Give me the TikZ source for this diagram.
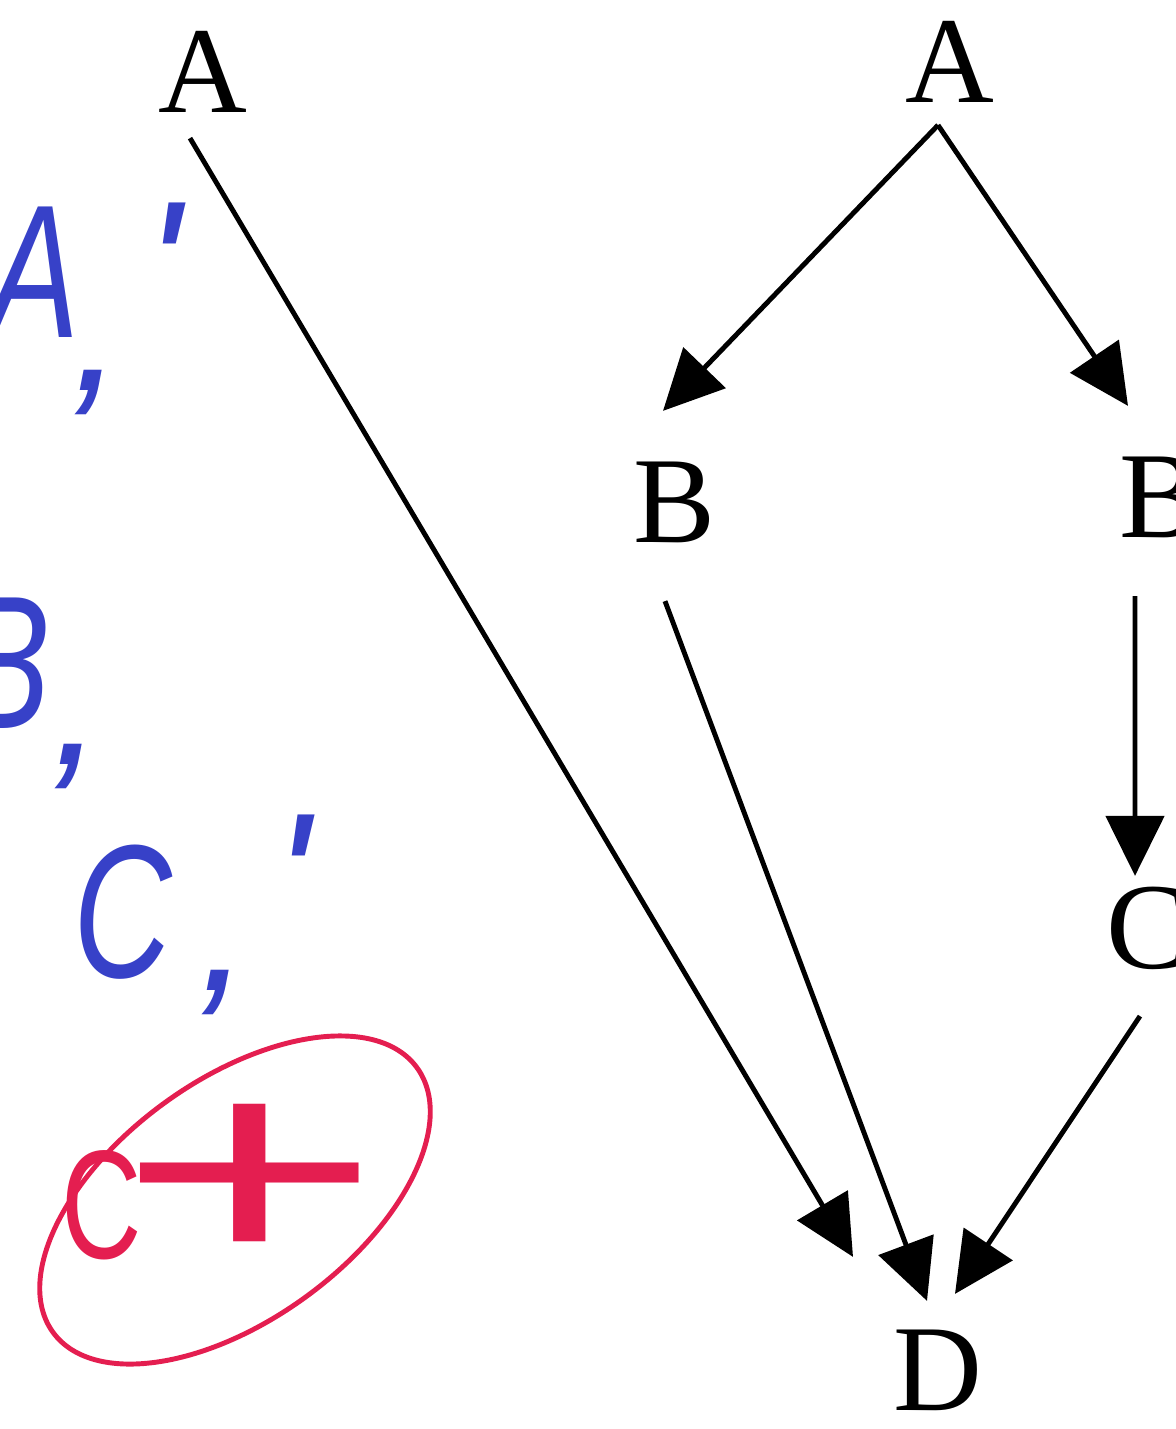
\documentclass[tikz,border=0pt]{standalone}
\usepackage{graphicx}
\usepackage{fontspec}
\setmainfont{Liberation Serif}
\newfontfamily\handfont{Liberation Sans}
\usetikzlibrary{arrows.meta}
\definecolor{penblue}{RGB}{55,65,200}
\definecolor{penred}{RGB}{228,30,80}
\newcommand{\narrow}[1]{\scalebox{0.72}[1]{#1}}
\begin{document}
\begin{tikzpicture}[
  letter/.style={font=\fontsize{35}{36}\selectfont,inner sep=0pt,text height=23pt,text depth=0pt},
  arr/.style={line width=1.4pt,-{Triangle[length=0.6cm,width=0.58cm]}},
  hand/.style={text=penblue,font=\handfont\itshape\fontsize{54}{54}\selectfont,inner sep=0pt}]
\useasboundingbox (0,0) rectangle (11.76,-14.29);
% graph letters
\node[letter] (al) at (2.03,-0.72) {A};
\node[letter] (ar) at (9.50,-0.62) {A};
\node[letter] (bl) at (6.75,-5.02) {B};
\node[letter] (br) at (11.61,-4.97) {B};
\node[letter] (c) at (11.48,-9.28) {C};
\node[letter] (d) at (9.38,-13.70) {D};
% arrows, south of source to north of target
\foreach \s/\ds/\t/\dt in {al/{-0.13,-0.25}/d/{-0.85,0.72}, ar/{-0.12,-0.22}/bl/{-0.12,0.50},
  ar/{-0.12,-0.22}/br/{-0.33,0.50}, br/{-0.26,-0.58}/c/{-0.13,0.11},
  bl/{-0.10,-0.58}/d/{-0.11,0.28}, c/{-0.08,-0.47}/d/{0.17,0.35}}
  {\draw[arr] ([shift={(\ds)}]\s.south) -- ([shift={(\dt)}]\t.north);}
% pen marks
\node[hand] (ha) at (0.34,-2.72) {\narrow{A}};
\node[hand] (hacomma) at (0.98,-3.92) {,};
\node[hand] (haprime) at (1.63,-2.68) {'};
\node[hand] (hb) at (0.05,-6.63) {\narrow{B}};
\node[hand] (hbcomma) at (0.78,-7.66) {,};
\node[hand] (hc) at (1.23,-9.12) {\narrow{C}};
\node[hand] (hccomma) at (2.25,-9.92) {,};
\node[hand] (hcprime) at (2.92,-8.80) {'};
\draw[penred,line width=1.4pt,rotate around={36:(2.35,-12.0)}] (2.35,-12.0) ellipse (2.25cm and 1.2cm);
\node[hand,text=penred,font=\handfont\fontsize{44}{44}\selectfont] (gc) at (1.02,-12.05) {\narrow{C}};
\node[hand,text=penred,font=\handfont\fontsize{80}{80}\selectfont] (gplus) at (2.50,-11.85) {\scalebox{1.6}[1]{+}};
\end{tikzpicture}
\end{document}
